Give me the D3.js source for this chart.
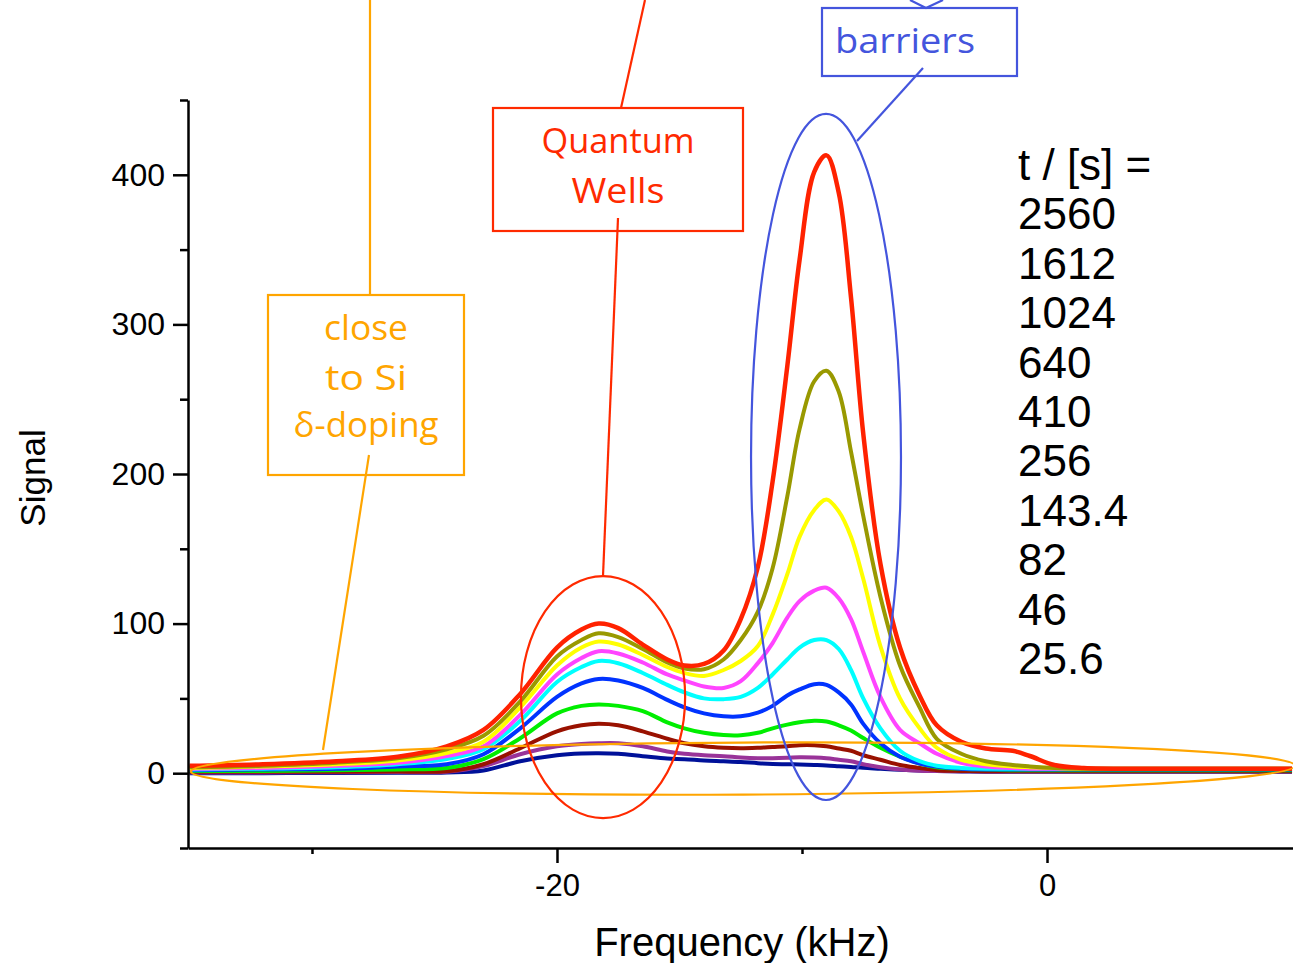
<!DOCTYPE html>
<html>
<head>
<meta charset="utf-8">
<script src="https://cdn.jsdelivr.net/npm/d3@7"></script>
<style>
  html, body { margin: 0; padding: 0; background: #fff; }
  svg { display: block; }
</style>
</head>
<body>
<div id="chart"></div>
<script>
// NMR-like spectra for several times t

const freq = [-35, -32, -29, -26.5, -24.5, -23, -21.5, -20, -19, -18.3, -17.5, -16.5, -15.5, -14.8, -14,
  -13.2, -12.5, -11.8, -11.2, -10.6, -10.1, -9.5, -9.0, -8.5, -8.0, -7.5, -6.8, -6.0, -5.2, -4.5,
  -3.5, -2.5, -1.4, -0.7, 0.3, 1.5, 4, 7, 10];

const s2560 = [5, 6, 8, 11, 18, 29, 53, 84, 96, 100, 97, 86, 76, 72, 73, 82, 103, 138, 195, 272,
  343, 402, 413, 388, 318, 227, 140, 84, 52, 32, 21, 16.5, 15, 11.5, 5.5, 3.5, 3, 3, 3];
const s1612 = [4, 5, 7, 10, 16, 25, 48, 78, 89, 93.5, 91, 83, 74, 70, 69.5, 76, 89, 108, 137, 185,
  230, 262, 269, 255, 215, 172, 118, 72, 44, 23, 13, 8, 5.5, 4.5, 3.5, 3, 3, 3, 3];
const s1024 = [3.5, 4.5, 6, 8.5, 13.5, 21, 44, 72, 84, 88, 86, 79, 71, 67, 65, 69, 75, 85, 106, 133,
  158, 176, 183, 175, 158, 130, 85, 50, 30, 17, 9, 6, 4.5, 4, 3.5, 3, 3, 3, 3];
const s640 = [3, 3.5, 5, 7, 11.5, 18, 39, 66, 77, 81.5, 80, 74, 66, 62, 58, 57, 61.5, 73.6, 87, 104,
  115, 122, 124, 117, 103, 81, 51, 29, 20, 13, 7, 4.5, 3.5, 3, 3, 3, 3, 3, 3];
const s410 = [2.5, 3, 4, 6, 9.5, 16, 35, 61, 71, 75, 73.5, 67, 59, 54, 50, 49.5, 51, 57, 66, 76,
  84, 89, 89, 83, 69, 50, 30, 15, 8, 5, 3.5, 3, 3, 3, 3, 3, 3, 3, 3];
const s256 = [2, 2.5, 3, 4.5, 6, 12.7, 30, 51, 60, 63, 62, 57, 49, 44, 40, 38, 38, 40.5, 45, 52,
  56, 59.5, 59, 54, 46, 33, 20, 11, 6.5, 4.5, 3, 2.5, 2.5, 2.5, 2.5, 2.5, 2.5, 2.5, 2.5];
const s143 = [1.5, 1.5, 2, 2.5, 3.5, 9.4, 23.4, 40, 45, 46, 45, 41.5, 34, 30, 27, 25.5, 25.4, 27, 30, 32.5,
  34, 35, 34.5, 32, 28.5, 23.5, 17, 11, 6.5, 4, 3, 2.5, 2, 2, 2, 2, 2, 2, 2];
const s82 = [1, 1, 1, 1.2, 1.3, 6, 16.7, 28, 32, 33, 32, 28, 23, 20, 18, 17, 16.7, 17, 17.5, 18,
  18.7, 18.7, 18, 16.5, 15, 12, 9, 5.5, 3.5, 2, 1.5, 1.3, 1.3, 1.3, 1.3, 1.3, 1.3, 1.3, 1.3];
const s46 = [0.5, 0.5, 0.7, 0.8, 1, 4.7, 12.7, 18, 19.5, 20, 20, 18, 14.5, 13, 12, 11.4, 10.5, 10, 10, 10.3,
  10.7, 10.5, 10, 9, 8, 6, 4, 2.5, 1.7, 1.5, 1.3, 1.2, 1.2, 1.2, 1.2, 1.2, 1.2, 1.2, 1.2];
const s25 = [0, 0, 0.2, 0.3, 0.5, 1.8, 8, 12, 13.2, 13.4, 13, 11.4, 9.8, 9.4, 8.5, 8, 7.5, 6.7, 6.2, 6,
  5.8, 5.5, 5.2, 4.7, 4.2, 3.6, 3, 2.3, 1.8, 1.5, 1.2, 1, 1, 1, 1, 1, 1, 1, 1];

const times = ["2560", "1612", "1024", "640", "410", "256", "143.4", "82", "46", "25.6"];
const seriesValues = [s2560, s1612, s1024, s640, s410, s256, s143, s82, s46, s25];
const colors = ["#ff2200", "#999900", "#ffff00", "#ff44ff", "#00ffff", "#0033ff", "#00ee00", "#991100", "#993399", "#001199"];

const yMajor = [0, 100, 200, 300, 400];
const yMinor = [-50, 50, 150, 250, 350, 450];
const xMajor = [-20, 0];
const xMinor = [-30, -10];

const width = 1293, height = 963;

const x = d3.scaleLinear().domain([-35.06, 10.04]).range([188, 1293]);
const y = d3.scaleLinear().domain([-50, 450]).range([848, 100]);

const svg = d3.select("#chart").append("svg")
  .attr("width", width)
  .attr("height", height)
  .style("font-family", "'Liberation Sans', Arial, sans-serif");

// spectra, smallest first so the big ones sit on top
const line = d3.line()
  .curve(d3.curveCatmullRom.alpha(0.5))
  .x(d => x(d[0]))
  .y(d => y(d[1]));

const series = times.map((t, i) => ({
  t, color: colors[i], values: freq.map((f, j) => [f, seriesValues[i][j]])
})).reverse();

svg.append("g")
  .selectAll("path")
  .data(series)
  .join("path")
    .attr("fill", "none")
    .attr("stroke", d => d.color)
    .attr("stroke-width", d => d.t === "2560" ? 4.5 : 4)
    .attr("stroke-linejoin", "round")
    .attr("d", d => line(d.values));

// axes
const yAxis = g => g
  .attr("transform", `translate(${x.range()[0]},0)`)
  .call(d3.axisLeft(y).tickValues(yMajor).tickSize(15).tickSizeOuter(0).tickPadding(8))
  .call(g => g.selectAll("text").attr("font-size", 32).attr("fill", "#000").attr("font-family", null))
  .call(g => g.append("g")
      .call(d3.axisLeft(y).tickValues(yMinor).tickSize(8).tickFormat(""))
      .call(g => g.select(".domain").remove()));

const xAxis = g => g
  .attr("transform", `translate(0,${y.range()[0]})`)
  .call(d3.axisBottom(x).tickValues(xMajor).tickFormat(d => String(d))
      .tickSize(15).tickSizeOuter(0).tickPadding(10))
  .call(g => g.selectAll("text").attr("font-size", 31).attr("fill", "#000").attr("font-family", null)
      .attr("dy", "0.75em"))
  .call(g => g.append("g")
      .call(d3.axisBottom(x).tickValues(xMinor).tickSize(6).tickFormat(""))
      .call(g => g.select(".domain").remove()));

svg.append("g").call(xAxis);
svg.append("g").call(yAxis);
svg.selectAll(".domain, .tick line")
  .attr("stroke", "#000")
  .attr("stroke-width", 2.5);

svg.append("text")
  .attr("x", 742)
  .attr("y", 956)
  .attr("text-anchor", "middle")
  .attr("font-size", 40)
  .text("Frequency (kHz)");

svg.append("text")
  .attr("transform", "translate(45,478) rotate(-90)")
  .attr("text-anchor", "middle")
  .attr("font-size", 35)
  .text("Signal");

// legend of times
const legend = svg.append("g")
  .attr("font-size", 44)
  .attr("fill", "#000");
legend.selectAll("text")
  .data(["t / [s] ="].concat(times))
  .join("text")
    .attr("x", 1018)
    .attr("y", (d, i) => 180 + i * 49.4)
    .text(d => d);

// annotations: ellipses in data units
const ellipses = [
  {cf: -12.41, cv: 3.1, rf: 22.53, rv: 17.4, rot: -0.3, color: "#ffa500"},
  {cf: -18.12, cv: 50.9, rf: 3.35, rv: 80.9, rot: 0, color: "#ff2a00"},
  {cf: -9.02, cv: 211.4, rf: 3.06, rv: 229.3, rot: 0, color: "#4455dd"}
];
const ann = svg.append("g").attr("fill", "none").attr("stroke-width", 2.2);
ann.selectAll("ellipse")
  .data(ellipses)
  .join("ellipse")
    .attr("cx", d => x(d.cf))
    .attr("cy", d => y(d.cv))
    .attr("rx", d => x(d.cf + d.rf) - x(d.cf))
    .attr("ry", d => y(d.cv - d.rv) - y(d.cv))
    .attr("transform", d => `rotate(${d.rot},${x(d.cf)},${y(d.cv)})`)
    .attr("stroke", d => d.color);

// callout boxes and their leader lines
const boxes = [
  {x: 268, y: 295, w: 196, h: 180, color: "#ffa500"},
  {x: 493, y: 108, w: 250, h: 123, color: "#ff2a00"},
  {x: 822, y: 8, w: 195, h: 68, color: "#4455dd"}
];
ann.selectAll("rect")
  .data(boxes)
  .join("rect")
    .attr("x", d => d.x).attr("y", d => d.y)
    .attr("width", d => d.w).attr("height", d => d.h)
    .attr("stroke", d => d.color);

const leaders = [
  {pts: [[370, 0], [370, 295]], color: "#ffa500"},
  {pts: [[369, 455], [323, 750]], color: "#ffa500"},
  {pts: [[645, 0], [621, 108]], color: "#ff2a00"},
  {pts: [[618, 218], [603, 576]], color: "#ff2a00"},
  {pts: [[910, 0], [926, 8], [943, 0]], color: "#4455dd"},
  {pts: [[923, 68], [857, 141]], color: "#4455dd"}
];
ann.selectAll("polyline")
  .data(leaders)
  .join("polyline")
    .attr("points", d => d.pts.join(" "))
    .attr("stroke", d => d.color);

const labels = [
  {text: "close", x: 366, y: 340, w: 84, color: "#ffa500"},
  {text: "to Si", x: 366, y: 390, w: 82, color: "#ffa500"},
  {text: "\u03b4-doping", x: 366, y: 437, w: 145, color: "#ffa500"},
  {text: "Quantum", x: 618, y: 153, w: 153, color: "#ff2a00"},
  {text: "Wells", x: 618, y: 203, w: 93, color: "#ff2a00"},
  {text: "barriers", x: 905, y: 53, w: 140, color: "#4455dd"}
];
svg.append("g")
  .attr("font-family", "'Open Sans', 'Noto Sans', sans-serif")
  .attr("font-size", 34)
  .selectAll("text")
  .data(labels)
  .join("text")
    .attr("x", d => d.x - d.w / 2)
    .attr("y", d => d.y)
    .attr("textLength", d => d.w)
    .attr("lengthAdjust", "spacingAndGlyphs")
    .attr("fill", d => d.color)
    .text(d => d.text);
</script>
</body>
</html>
